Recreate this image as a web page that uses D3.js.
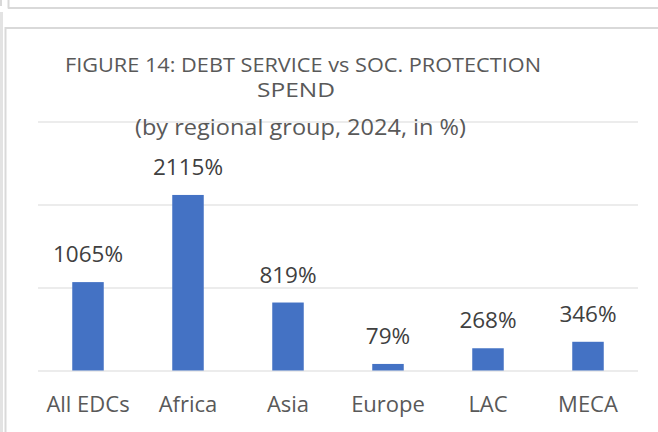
<!DOCTYPE html>
<html>
<head>
<meta charset="utf-8">
<script src="https://cdn.jsdelivr.net/npm/d3@7"></script>
<style>
  html, body { margin: 0; padding: 0; background: #ffffff; }
  svg { display: block; }
</style>
</head>
<body>
<svg id="chart" width="658" height="432"></svg>
<script>
// ---- data ----
const categories = ["All EDCs", "Africa", "Asia", "Europe", "LAC", "MECA"];
const values = [1065, 2115, 819, 79, 268, 346];
const valueLabels = ["1065%", "2115%", "819%", "79%", "268%", "346%"];
const gridTicks = [0, 1000, 2000, 3000];
const titleLines = ["FIGURE 14: DEBT SERVICE vs SOC. PROTECTION", "SPEND", "(by regional group, 2024, in %)"];

// ---- layout ----
const svg = d3.select("#chart");
const W = 658, H = 432;
const plot = { left: 38, right: 638, top: 121.5, bottom: 370.5 };

svg.append("rect").attr("width", W).attr("height", H).attr("fill", "#ffffff");

// frame lines (partially visible chart boxes)
const frame = svg.append("g").attr("fill", "none");
frame.append("line").attr("x1", 1).attr("x2", 1).attr("y1", 0).attr("y2", 6).attr("stroke", "#d9d9d9").attr("stroke-width", 2);
frame.append("line").attr("x1", 8.5).attr("x2", 8.5).attr("y1", 0).attr("y2", 8.5).attr("stroke", "#d9d9d9").attr("stroke-width", 2);
frame.append("line").attr("x1", 8).attr("x2", W).attr("y1", 8).attr("y2", 8).attr("stroke", "#d9d9d9").attr("stroke-width", 2);
frame.append("line").attr("x1", 1.5).attr("x2", 1.5).attr("y1", 12).attr("y2", H).attr("stroke", "#e3e3e3").attr("stroke-width", 3);
frame.append("line").attr("x1", 5).attr("x2", W).attr("y1", 28).attr("y2", 28).attr("stroke", "#d9d9d9").attr("stroke-width", 2);
frame.append("line").attr("x1", 5.5).attr("x2", 5.5).attr("y1", 27).attr("y2", H).attr("stroke", "#d9d9d9").attr("stroke-width", 2);

// scales
const x = d3.scaleBand().domain(categories).range([plot.left, plot.right]).paddingInner(0.685).paddingOuter(0.3425);
const y = d3.scaleLinear().domain([0, 3000]).range([plot.bottom, plot.top]);

// gridlines
const grid = svg.append("g").attr("transform", `translate(${plot.left},0)`)
  .call(d3.axisLeft(y).tickValues(gridTicks).tickSize(-(plot.right - plot.left)).tickFormat(""));
grid.select(".domain").remove();
grid.selectAll(".tick line").attr("stroke", "#d9d9d9").attr("stroke-width", 1);

// title
const titleG = svg.append("g").attr("font-family", "'Open Sans', sans-serif").attr("fill", "#595959").attr("text-anchor", "middle");
titleG.append("text").attr("x", 303).attr("y", 72).attr("font-size", 20)
  .attr("textLength", 476).attr("lengthAdjust", "spacingAndGlyphs").text(titleLines[0]);
titleG.append("text").attr("x", 296).attr("y", 97).attr("font-size", 20)
  .attr("textLength", 78).attr("lengthAdjust", "spacingAndGlyphs").text(titleLines[1]);
titleG.append("text").attr("x", 300.5).attr("y", 135).attr("font-size", 22)
  .attr("textLength", 331).attr("lengthAdjust", "spacingAndGlyphs").text(titleLines[2]);

// bars
const data = categories.map((c, i) => ({ c, v: values[i], label: valueLabels[i] }));
svg.append("g").selectAll("rect").data(data).join("rect")
  .attr("x", d => x(d.c))
  .attr("width", x.bandwidth())
  .attr("y", d => y(d.v))
  .attr("height", d => y(0) - y(d.v))
  .attr("fill", "#4472C4");

// value labels
svg.append("g").selectAll("text").data(data).join("text")
  .attr("x", d => x(d.c) + x.bandwidth() / 2)
  .attr("y", d => y(d.v) - 20)
  .attr("text-anchor", "middle")
  .attr("font-family", "'Open Sans', sans-serif")
  .attr("font-size", 22.5)
  .attr("fill", "#404040")
  .text(d => d.label);

// category axis
const xAxis = svg.append("g").attr("transform", `translate(0,${plot.bottom})`)
  .call(d3.axisBottom(x).tickSize(0).tickPadding(0));
xAxis.select(".domain").remove();
xAxis.selectAll(".tick text")
  .attr("dy", null)
  .attr("y", 412 - plot.bottom)
  .attr("font-family", "'Open Sans', sans-serif")
  .attr("font-size", 22)
  .attr("fill", "#595959");
</script>
</body>
</html>
